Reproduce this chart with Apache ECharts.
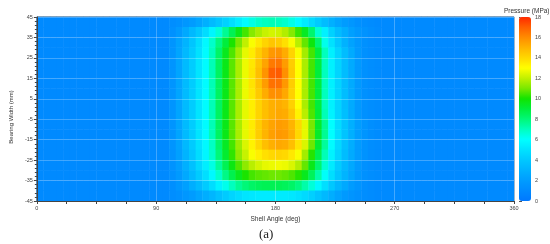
<!DOCTYPE html>
<html lang="en">
<head>
<meta charset="UTF-8">
<title>Pressure map</title>
<script src="https://cdn.jsdelivr.net/npm/echarts@6/dist/echarts.min.js"></script>
<style>
  html, body { margin: 0; padding: 0; background: #fff; }
  #main { width: 550px; height: 244px; }
</style>
</head>
<body>
<div id="main"></div>
<script>
// bearing width bands (mm), top to bottom, 5 mm each
const widthMm = [42.5, 37.5, 32.5, 27.5, 22.5, 17.5, 12.5, 7.5, 2.5,
                 -2.5, -7.5, -12.5, -17.5, -22.5, -27.5, -32.5, -37.5, -42.5];

// shell angle bands (deg), 5 deg each
const angleDeg = [102.5, 107.5, 112.5, 117.5, 122.5, 127.5, 132.5, 137.5,
                  142.5, 147.5, 152.5, 157.5, 162.5, 167.5, 172.5, 177.5,
                  182.5, 187.5, 192.5, 197.5, 202.5, 207.5, 212.5, 217.5,
                  222.5, 227.5, 232.5, 237.5, 242.5, 247.5, 252.5, 257.5];

// flat pressure outside those angles (MPa)
const basePressure = 1.0;

// pressure (MPa), one row per width band, one column per angle band
const pressure = [
  [1.2,1.4,1.7,2.0,2.4,2.9,3.4,3.9,4.4,4.9,5.4,5.9,6.4,6.8,7.0,7.1,7.0,6.8,6.4,5.9,5.3,4.7,4.1,3.5,2.9,2.4,2.0,1.7,1.4,1.2,1.1,1.0],
  [1.4,1.9,2.6,3.3,4.0,4.8,5.7,6.6,7.6,8.6,9.6,10.5,11.2,11.7,12.1,12.3,12.2,11.8,11.2,10.4,9.4,8.2,6.7,5.5,4.4,3.5,2.8,2.2,1.8,1.5,1.3,1.1],
  [1.6,2.3,3.1,3.9,4.8,5.8,6.8,7.9,9.0,10.1,11.0,12.0,12.9,13.6,14.1,14.5,14.3,13.8,12.9,11.9,10.8,9.8,8.2,6.3,5.0,4.0,3.0,2.3,1.8,1.4,1.2,1.1],
  [1.6,2.4,3.3,4.1,5.0,5.9,7.0,8.3,9.5,10.6,11.6,12.6,13.5,14.3,15.0,15.7,15.8,15.2,14.1,12.9,11.6,10.5,9.0,7.0,5.5,4.5,3.5,2.7,1.9,1.4,1.2,1.1],
  [1.6,2.4,3.4,4.2,5.1,5.9,7.1,8.4,9.6,10.7,11.7,12.7,13.6,14.5,15.4,16.4,16.5,15.6,14.3,13.0,11.7,10.5,9.0,7.0,5.5,4.5,3.5,2.7,1.9,1.4,1.2,1.1],
  [1.6,2.4,3.4,4.2,5.1,5.9,7.1,8.4,9.6,10.7,11.7,12.7,13.7,14.7,15.8,17.0,17.1,15.9,14.4,13.0,11.7,10.5,9.0,7.0,5.5,4.5,3.5,2.7,1.9,1.4,1.2,1.1],
  [1.6,2.4,3.4,4.2,5.1,5.9,7.1,8.4,9.6,10.7,11.7,12.7,13.7,14.6,15.6,16.6,16.6,15.7,14.3,13.0,11.7,10.5,9.0,7.0,5.5,4.5,3.5,2.7,1.9,1.4,1.2,1.1],
  [1.6,2.4,3.4,4.2,5.1,5.9,7.1,8.4,9.6,10.7,11.7,12.7,13.6,14.4,15.2,15.9,15.9,15.3,14.2,13.0,11.7,10.5,9.0,7.0,5.5,4.5,3.5,2.7,1.9,1.4,1.2,1.1],
  [1.6,2.4,3.4,4.2,5.1,5.9,7.1,8.4,9.6,10.7,11.7,12.6,13.4,14.1,14.7,15.1,15.2,15.0,14.2,13.0,11.7,10.5,9.0,7.0,5.5,4.5,3.5,2.7,1.9,1.4,1.2,1.1],
  [1.6,2.4,3.4,4.2,5.1,5.9,7.1,8.4,9.6,10.7,11.7,12.6,13.4,14.1,14.7,15.1,15.3,15.2,14.5,13.3,11.9,10.6,9.1,7.1,5.6,4.5,3.6,2.7,1.9,1.4,1.2,1.1],
  [1.6,2.4,3.4,4.2,5.1,5.9,7.1,8.4,9.6,10.7,11.7,12.6,13.5,14.3,15.0,15.4,15.6,15.5,15.0,14.0,12.6,11.0,9.3,7.6,6.0,4.8,3.8,2.9,2.1,1.6,1.3,1.1],
  [1.6,2.4,3.4,4.2,5.1,5.9,7.1,8.4,9.6,10.7,11.7,12.6,13.5,14.3,15.0,15.5,15.7,15.6,15.1,14.0,12.6,11.0,9.3,7.6,6.0,4.8,3.8,2.9,2.1,1.6,1.3,1.1],
  [1.6,2.3,3.3,4.1,5.0,5.8,6.9,8.2,9.4,10.5,11.5,12.4,13.3,14.0,14.7,15.1,15.3,15.2,14.7,13.7,12.4,10.9,9.2,7.5,5.9,4.7,3.7,2.8,2.0,1.5,1.2,1.1],
  [1.5,2.2,3.1,3.9,4.8,5.7,6.8,8.0,9.2,10.3,11.3,12.1,12.9,13.4,13.8,14.0,14.1,14.0,13.6,12.9,11.6,10.2,8.7,7.1,5.6,4.5,3.5,2.7,2.0,1.5,1.2,1.1],
  [1.5,2.1,2.9,3.7,4.6,5.4,6.4,7.5,8.6,9.7,10.6,11.3,11.9,12.3,12.6,12.7,12.8,12.7,12.4,11.8,10.8,9.6,8.2,6.7,5.3,4.2,3.3,2.6,1.9,1.4,1.2,1.1],
  [1.4,1.9,2.6,3.3,4.1,4.9,5.8,6.8,7.8,8.7,9.5,10.1,10.5,10.7,10.8,10.9,10.9,10.8,10.6,10.2,9.5,8.5,7.3,6.1,4.9,3.9,3.1,2.4,1.8,1.4,1.2,1.1],
  [1.3,1.7,2.2,2.8,3.4,4.1,4.8,5.6,6.3,7.0,7.6,8.0,8.3,8.5,8.6,8.6,8.6,8.5,8.3,7.9,7.3,6.6,5.8,4.9,4.0,3.2,2.6,2.0,1.6,1.3,1.1,1.0],
  [1.2,1.4,1.7,2.0,2.4,2.8,3.2,3.7,4.1,4.5,4.8,5.1,5.2,5.3,5.3,5.3,5.3,5.3,5.2,5.0,4.7,4.3,3.8,3.3,2.8,2.3,1.9,1.6,1.4,1.2,1.1,1.0]
];

// colour scale, 0 to 18 MPa in steps of 1
const scaleColors = ['#0078ff', '#008aff', '#009cff', '#00b2ff', '#00c8ff', '#00e2ff',
                     '#00ffff', '#00ffbe', '#00f878', '#00ee3c', '#10e400', '#78e800',
                     '#c0f000', '#ffff00', '#ffd800', '#ffb400', '#ff8c00', '#ff6000', '#ff2a00'];

const labelFont = 'Liberation Sans';

// all 5 deg bands round the shell
const angleBands = [];
for (let a = 2.5; a < 360; a += 5) angleBands.push(a);
const widthBands = widthMm.slice().reverse();

const cells = [];
angleBands.forEach(function (a, i) {
  const j = angleDeg.indexOf(a);
  widthMm.forEach(function (w, r) {
    const v = j < 0 ? basePressure : pressure[r][j];
    cells.push([i, widthBands.indexOf(w), v]);
  });
});

const chart = echarts.init(document.getElementById('main'));

const option = {
  animation: false,
  title: [
    {
      text: '(a)',
      left: 259, top: 228,
      padding: 0,
      textStyle: { fontFamily: 'Liberation Serif', fontSize: 13, fontWeight: 'normal', color: '#222' }
    },
    {
      text: 'Pressure (MPa)',
      left: 504, top: 8,
      padding: 0,
      textStyle: { fontFamily: labelFont, fontSize: 6.5, fontWeight: 'normal', color: '#333' }
    }
  ],
  grid: [
    { left: 23, top: 17, width: 491, height: 184, show: true, borderColor: '#555', borderWidth: 1, containLabel: false },
    { left: 519, top: 17, width: 12, height: 184, containLabel: false }
  ],
  xAxis: [
    { type: 'category', gridIndex: 0, position: 'top', data: angleBands, show: false },
    {
      type: 'value', gridIndex: 0, position: 'bottom', min: 0, max: 360, interval: 90, z: 5,
      name: 'Shell Angle (deg)', nameLocation: 'middle', nameGap: 10,
      nameTextStyle: { fontFamily: labelFont, fontSize: 6.5, color: '#333' },
      axisLine: { lineStyle: { color: '#444', width: 1 } },
      axisTick: { show: true, length: 3, lineStyle: { color: '#444' } },
      minorTick: { show: true, splitNumber: 4, length: 3, lineStyle: { color: '#444' } },
      axisLabel: { fontFamily: labelFont, fontSize: 5.5, color: '#444', margin: 4 },
      splitLine: { show: true, lineStyle: { color: 'rgba(255,255,255,0.25)', width: 1 } }
    },
    { type: 'value', gridIndex: 1, min: 0, max: 1, show: false }
  ],
  yAxis: [
    { type: 'category', gridIndex: 0, position: 'right', data: widthBands, show: false },
    {
      // shifted by 45 so ticks land on -45, -35, ... 45
      type: 'value', gridIndex: 0, position: 'left', min: 0, max: 90, interval: 10, z: 5,
      name: 'Bearing Width (mm)', nameLocation: 'middle', nameGap: 15,
      nameTextStyle: { fontFamily: labelFont, fontSize: 6, color: '#333', padding: [0, 16, 0, 0] },
      axisLine: { show: true, lineStyle: { color: '#444', width: 1 } },
      axisTick: { show: true, length: 3, lineStyle: { color: '#444' } },
      minorTick: { show: true, splitNumber: 5, length: 2, lineStyle: { color: '#444' } },
      axisLabel: { fontFamily: labelFont, fontSize: 5.5, color: '#444', margin: 4,
                   formatter: function (v) { return String(v - 45); } },
      splitLine: { show: true, lineStyle: { color: 'rgba(255,255,255,0.25)', width: 1 } }
    },
    {
      type: 'value', gridIndex: 1, position: 'right', min: 0, max: 18, interval: 2,
      axisLine: { show: false },
      axisTick: { show: true, length: 3, lineStyle: { color: '#555' } },
      axisLabel: { fontFamily: labelFont, fontSize: 5.5, color: '#444', margin: 4 },
      splitLine: { show: false }
    }
  ],
  visualMap: {
    type: 'continuous',
    min: 0, max: 18,
    seriesIndex: 0,
    calculable: false,
    hoverLink: false,
    left: 519, top: 17,
    padding: 0,
    itemWidth: 12, itemHeight: 184,
    inRange: { color: scaleColors }
  },
  series: [{
    type: 'heatmap',
    xAxisIndex: 0, yAxisIndex: 0,
    data: cells,
    itemStyle: { borderWidth: 0 },
    emphasis: { disabled: true }
  }]
};

chart.setOption(option);
</script>
</body>
</html>
